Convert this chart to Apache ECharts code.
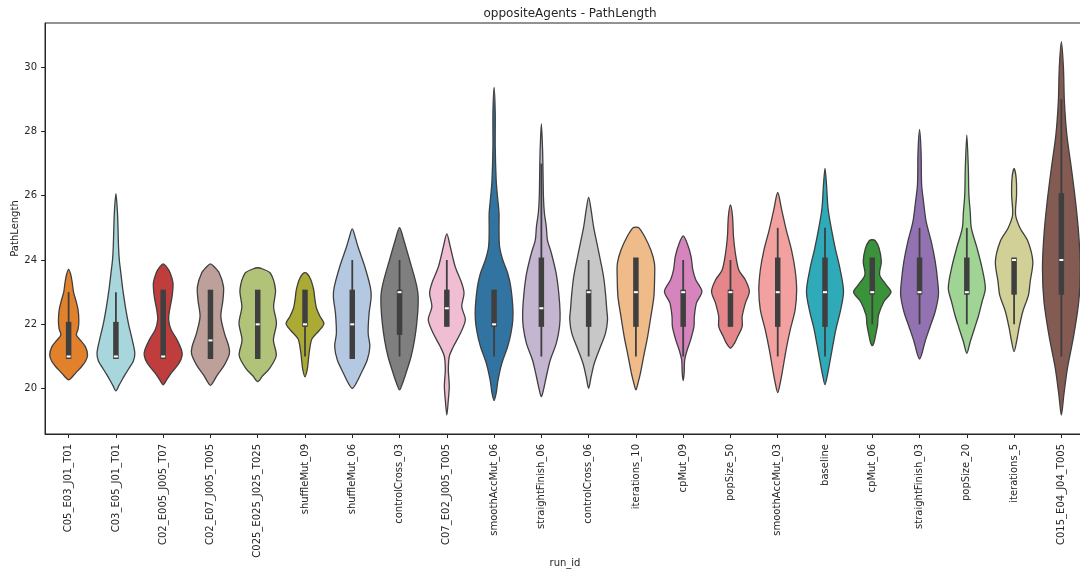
<!DOCTYPE html>
<html><head><meta charset="utf-8">
<script src="https://cdn.jsdelivr.net/npm/echarts@6/dist/echarts.min.js"></script>
<style>html,body{margin:0;padding:0;background:#fff}#c{width:1080px;height:574px}</style>
</head><body><div id="c"></div>
<script>
const categories = ['C05_E03_J01_T01','C03_E05_J01_T01','C02_E005_J005_T07','C02_E07_J005_T005','C025_E025_J025_T025','shuffleMut_09','shuffleMut_06','controlCross_03','C07_E02_J005_T005','smoothAccMut_06','straightFinish_06','controlCross_06','iterations_10','cpMut_09','popSize_50','smoothAccMut_03','baseline','cpMut_06','straightFinish_03','popSize_20','iterations_5','C015_E04_J04_T005'];
const q1      = [21,21,21,21,21,22,21,21.75,22,22,22,22,22,22,22,22,22,23,23,23,23,23];
const median  = [21,21,21,21.5,22,22,22,23,22.5,22,22.5,23,23,23,23,23,23,23,23,23,24,24];
const q3      = [22,22,23,23,23,23,23,23,23,23,24,23,24,23,23,24,24,24,24,24,24,26];
const whiskLo = [21,21,21,21,21,21,21,21,22,21,21,21,21,21,22,21,21,22,22,22,22,21];
const whiskHi = [23,23,23,23,23,23,24,24,24,23,27,24,24,24,24,25,25,24,25,25,24,29];
const yTicks  = [20,22,24,26,28,30];
// density profiles: [PathLength, relative half-width 0..1]
const profiles = [
 [[23.71,0],[23.55,0.11],[23.3,0.19],[23.0,0.26],[22.75,0.38],[22.45,0.5],[22.1,0.54],[21.85,0.5],[21.67,0.41],[21.5,0.63],[21.3,0.89],[21.05,1.0],[20.85,0.89],[20.68,0.68],[20.5,0.39],[20.38,0.21],[20.27,0]],
 [[26.06,0],[25.5,0.08],[25.0,0.11],[24.4,0.14],[24.0,0.18],[23.6,0.26],[23.1,0.36],[22.55,0.5],[22.03,0.66],[21.5,0.87],[21.1,1.0],[20.85,0.92],[20.68,0.74],[20.45,0.5],[20.27,0.32],[20.1,0.16],[19.93,0]],
 [[23.88,0],[23.8,0.16],[23.6,0.37],[23.28,0.52],[22.86,0.47],[22.45,0.34],[22.14,0.29],[21.83,0.42],[21.51,0.74],[21.2,0.97],[21.03,1.0],[20.79,0.84],[20.48,0.42],[20.27,0.18],[20.12,0]],
 [[23.88,0],[23.8,0.18],[23.59,0.47],[23.17,0.69],[22.76,0.66],[22.24,0.55],[21.72,0.74],[21.31,0.97],[21.08,1.0],[20.74,0.74],[20.43,0.37],[20.22,0.16],[20.1,0]],
 [[23.76,0],[23.72,0.26],[23.59,0.67],[23.07,0.94],[22.55,0.84],[22.03,0.99],[21.51,0.83],[21.03,0.98],[20.63,0.63],[20.4,0.26],[20.22,0]],
 [[23.61,0],[23.45,0.26],[23.1,0.45],[22.75,0.53],[22.5,0.61],[22.25,0.79],[22.02,1.0],[21.8,0.74],[21.55,0.37],[21.2,0.24],[20.9,0.18],[20.6,0.12],[20.37,0]],
 [[24.97,0],[24.7,0.16],[24.42,0.3],[23.8,0.66],[23.17,0.95],[22.86,1.0],[22.35,0.89],[21.72,0.84],[21.31,0.93],[20.89,0.79],[20.48,0.47],[20.17,0.21],[20.01,0]],
 [[25.01,0],[24.63,0.22],[24.0,0.53],[23.38,0.83],[22.97,0.97],[22.55,0.98],[22.03,0.91],[21.51,0.79],[21.0,0.61],[20.48,0.34],[20.12,0.13],[19.96,0]],
 [[24.81,0],[24.42,0.18],[23.8,0.44],[23.28,0.79],[22.97,0.91],[22.55,0.79],[22.14,0.98],[21.72,0.72],[21.31,0.35],[21.0,0.13],[20.58,0.08],[20.3,0.11],[20.06,0.13],[19.65,0.08],[19.18,0]],
 [[29.37,0],[28.57,0.06],[27.53,0.06],[26.49,0.11],[25.97,0.18],[25.46,0.26],[24.94,0.26],[24.42,0.29],[24.0,0.46],[23.59,0.72],[23.17,0.88],[22.55,0.99],[22.14,0.99],[21.72,0.89],[21.31,0.72],[20.79,0.41],[20.27,0.21],[19.86,0.11],[19.63,0]],
 [[28.23,0],[27.5,0.06],[27.01,0.08],[25.97,0.11],[25.46,0.16],[25.04,0.26],[24.63,0.32],[24.21,0.53],[23.59,0.78],[22.97,0.92],[22.35,0.99],[21.93,0.96],[21.41,0.79],[20.89,0.47],[20.37,0.26],[19.96,0.11],[19.75,0]],
 [[25.95,0],[25.56,0.13],[25.04,0.26],[24.52,0.44],[24.0,0.62],[23.48,0.79],[22.97,0.89],[22.45,0.96],[22.14,1.0],[21.72,0.89],[21.31,0.63],[20.79,0.3],[20.37,0.13],[20.01,0]],
 [[25.02,0],[25.0,0.16],[24.73,0.46],[24.31,0.79],[23.9,0.98],[23.48,0.99],[22.86,0.95],[22.24,0.79],[21.62,0.62],[21.0,0.41],[20.48,0.24],[20.17,0.11],[19.96,0]],
 [[24.75,0],[24.52,0.21],[24.1,0.42],[23.69,0.51],[23.38,0.67],[23.02,0.99],[22.66,0.7],[22.24,0.59],[21.93,0.57],[21.51,0.39],[21.2,0.21],[20.89,0.08],[20.48,0.05],[20.25,0]],
 [[25.71,0],[25.35,0.11],[24.73,0.16],[24.21,0.26],[23.69,0.44],[23.38,0.79],[23.02,1.0],[22.66,0.79],[22.24,0.62],[21.93,0.62],[21.62,0.38],[21.41,0.21],[21.26,0]],
 [[26.1,0],[25.56,0.21],[24.94,0.45],[24.31,0.73],[23.69,0.92],[23.07,1.0],[22.45,0.92],[21.83,0.66],[21.2,0.44],[20.58,0.26],[20.17,0.13],[19.88,0]],
 [[26.85,0],[26.34,0.08],[25.61,0.16],[24.99,0.33],[24.37,0.54],[23.74,0.79],[23.02,0.98],[22.4,0.81],[21.88,0.59],[21.36,0.42],[20.84,0.26],[20.43,0.13],[20.12,0]],
 [[24.63,0],[24.6,0.16],[24.37,0.36],[23.95,0.48],[23.54,0.39],[23.23,0.74],[23.0,0.99],[22.71,0.62],[22.29,0.33],[21.98,0.28],[21.67,0.18],[21.41,0.08],[21.34,0]],
 [[28.05,0],[27.37,0.08],[26.34,0.11],[25.82,0.21],[25.19,0.35],[24.57,0.62],[23.95,0.83],[23.33,0.96],[22.91,1.0],[22.4,0.83],[21.88,0.53],[21.46,0.29],[21.1,0.13],[20.92,0]],
 [[27.89,0],[26.85,0.08],[26.02,0.11],[25.5,0.18],[24.99,0.24],[24.37,0.54],[23.74,0.81],[23.12,0.98],[22.71,0.81],[22.29,0.63],[21.88,0.41],[21.46,0.18],[21.1,0]],
 [[26.85,0],[26.54,0.11],[26.02,0.13],[25.4,0.08],[24.99,0.32],[24.57,0.74],[23.95,0.99],[23.33,0.85],[22.91,0.76],[22.4,0.46],[21.88,0.26],[21.46,0.13],[21.15,0]],
 [[30.79,0],[29.97,0.11],[28.93,0.16],[27.89,0.29],[26.85,0.53],[25.82,0.75],[24.78,0.92],[23.74,1.0],[22.71,0.92],[21.67,0.66],[20.63,0.32],[19.8,0.13],[19.18,0]]
];
const colors = ['#e1812c','#a7d6dc','#c03d3e','#bea09a','#b0c378','#aaaa35','#b5c8e1','#7f7f7f','#efbed3','#3274a1','#c4b5d0','#c7c7c7','#eebb89','#d584bd','#e5878a','#f2a1a0','#2eaab8','#3a923a','#9372b2','#9fd495','#d1d197','#845b53'];

const ink = '#262626', boxInk = '#3f3f3f';
const chart = echarts.init(document.getElementById('c'), null, {renderer: 'canvas'});
chart.setOption({
  animation: false,
  backgroundColor: '#fff',
  title: {text: 'oppositeAgents - PathLength', left: 565, textAlign: 'center', top: 3,
    textStyle: {fontFamily: 'DejaVu Sans', fontSize: 12, fontWeight: 'normal', color: ink}},
  grid: {left: 45, top: 23, width: 1040, height: 411, show: true, borderColor: ink, borderWidth: 1,
    backgroundColor: 'transparent', containLabel: false, outerBoundsMode: 'none'},
  xAxis: {
    type: 'category', data: categories, boundaryGap: true,
    name: 'run_id', nameLocation: 'middle', nameGap: 124, nameMoveOverlap: false,
    nameTextStyle: {fontFamily: 'DejaVu Sans', fontSize: 10, color: ink},
    axisLine: {show: true, lineStyle: {color: ink, width: 1}},
    axisTick: {show: true, alignWithLabel: true, length: 4, lineStyle: {color: ink}},
    axisLabel: {rotate: 90, interval: 0, margin: 10, fontFamily: 'DejaVu Sans', fontSize: 10, color: ink},
    splitLine: {show: false}
  },
  yAxis: {
    type: 'value', min: 18.59, max: 31.37,
    name: 'PathLength', nameLocation: 'middle', nameGap: 25, nameMoveOverlap: false,
    nameTextStyle: {fontFamily: 'DejaVu Sans', fontSize: 10, color: ink},
    axisLine: {show: true, lineStyle: {color: ink, width: 1}},
    axisTick: {show: true, length: 4, lineStyle: {color: ink}, customValues: yTicks},
    axisLabel: {margin: 8, fontFamily: 'DejaVu Sans', fontSize: 10, color: ink, customValues: yTicks},
    splitLine: {show: false}
  },
  series: [{
    type: 'custom',
    encode: {x: 0, y: 1},
    data: categories.map((c, i) => [i, median[i]]),
    renderItem: function (params, api) {
      const i = api.value(0);
      const cx = api.coord([i, 0])[0];
      const band = api.size([1, 0])[0];
      const half = 0.4 * band;
      const py = v => api.coord([i, v])[1];
      const prof = profiles[i];
      const right = prof.map(p => [cx + p[1] * half, py(p[0])]);
      const left = prof.slice(1, -1).reverse().map(p => [cx - p[1] * half, py(p[0])]);
      const pts = right.concat(left);
      const bw = 5.5;
      return {type: 'group', children: [
        {type: 'polygon', shape: {points: pts, smooth: 0.3}, style: {fill: colors[i], stroke: boxInk, lineWidth: 1.3}},
        {type: 'line', shape: {x1: cx, y1: py(whiskHi[i]), x2: cx, y2: py(q3[i])}, style: {stroke: boxInk, lineWidth: 1.8}},
        {type: 'line', shape: {x1: cx, y1: py(q1[i]), x2: cx, y2: py(whiskLo[i])}, style: {stroke: boxInk, lineWidth: 1.8}},
        {type: 'rect', shape: {x: cx - bw / 2, y: py(q3[i]) - 2.5, width: bw, height: py(q1[i]) - py(q3[i]) + 5}, style: {fill: boxInk}},
        {type: 'rect', shape: {x: cx - 2, y: py(median[i]) - 1, width: 4, height: 2}, style: {fill: '#ffffff'}}
      ]};
    }
  }]
});
</script></body></html>
